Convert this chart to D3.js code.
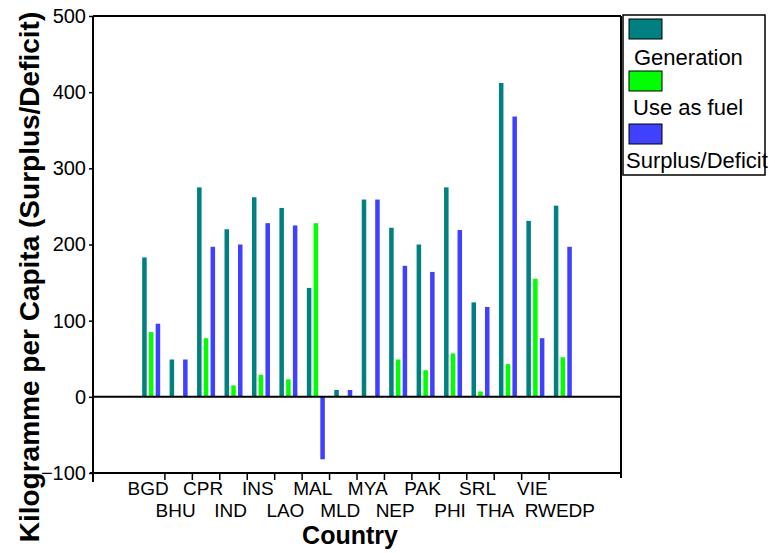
<!DOCTYPE html>
<html><head><meta charset="utf-8">
<script src="https://cdn.jsdelivr.net/npm/d3@7"></script>
<style>
body{margin:0;background:#fff;}
text{font-family:"Liberation Sans",Arial,sans-serif;}
</style></head>
<body><svg id="c" width="775" height="553"></svg>
<script>
const countries = ["BGD","BHU","CPR","IND","INS","LAO","MAL","MLD","MYA","NEP","PAK","PHI","SRL","THA","VIE","RWEDP"];
const generation = [183, 49, 275, 220, 262, 248, 143, 9, 259, 222, 200, 275, 124, 412, 231, 251];
const useAsFuel  = [85, 0, 77, 15, 29, 23, 228, 0, 0, 49, 35, 57, 7, 43, 155, 52];
const surplus    = [96, 49, 197, 200, 228, 225, -82, 9, 259, 172, 164, 219, 118, 368, 77, 197];
const seriesNames = ["Generation","Use as fuel","Surplus/Deficit"];
const seriesColors = ["#008080","#00ff00","#4040ff"];
const yTicks = [-100, 0, 100, 200, 300, 400, 500];

const svg = d3.select("#c");
const L = 93, R = 621, T = 16, B = 473;
const y = d3.scaleLinear().domain([-100, 500]).range([B, T]);
const x = d3.scaleBand().domain(countries).range([L, R]).paddingInner(0).paddingOuter(1.62);
const xs = d3.scaleBand().domain([0,1,2]).range([-9, 9]).paddingInner(0.33);
const series = [generation, useAsFuel, surplus];

// bars
series.forEach((vals, si) => {
  svg.append("g").selectAll("rect").data(countries.map((c, i) => ({c, v: vals[i]})).filter(d => d.v !== 0))
    .join("rect")
    .attr("x", d => x(d.c) + x.bandwidth()/2 + xs(si))
    .attr("width", xs.bandwidth())
    .attr("y", d => Math.min(y(d.v), y(0)))
    .attr("height", d => Math.abs(y(d.v) - y(0)))
    .attr("fill", seriesColors[si]);
});

// frame
const line = (x1,y1,x2,y2,w) => svg.append("line").attr("x1",x1).attr("y1",y1).attr("x2",x2).attr("y2",y2)
  .attr("stroke","#000").attr("stroke-width",w||2);
line(L, T, R, T);
line(L, T, L, 482);
line(90, B, 622, B);
line(R, T, R, 478);
line(L, y(0), R, y(0));

// y axis ticks
const yAxis = d3.axisLeft(y).tickValues(yTicks).tickSize(4).tickPadding(3).tickFormat(d3.format("d"));
const ga = svg.append("g").attr("transform", `translate(${L},0)`).call(yAxis);
ga.select(".domain").remove();
ga.selectAll("line").attr("stroke","#000").attr("stroke-width",1.5);
ga.selectAll("text").attr("font-size",20).attr("fill","#000").attr("font-family","Liberation Sans, Arial, sans-serif");

// x ticks at band boundaries
svg.append("g").selectAll("line").data(countries.slice(1)).join("line")
  .attr("x1", d => x(d)).attr("x2", d => x(d)).attr("y1", B).attr("y2", 480)
  .attr("stroke","#000").attr("stroke-width",1.5);

const xl = svg.append("g").selectAll("text").data(countries).join("text")
  .attr("x", d => x(d) + x.bandwidth()/2 - 3)
  .attr("y", (d, i) => i % 2 === 0 ? 495 : 517)
  .attr("text-anchor","middle").attr("font-size",19).attr("fill","#000")
  .text(d => d);
// avoid overlaps within each row: shift left labels leftwards
[0,1].forEach(row => {
  const nodes = xl.filter((d,i) => i % 2 === row).nodes();
  for (let k = nodes.length - 2; k >= 0; k--) {
    const a = nodes[k].getBBox(), b = nodes[k+1].getBBox();
    const gap = b.x - (a.x + a.width);
    if (gap < 10) nodes[k].setAttribute("x", +nodes[k].getAttribute("x") - (10 - gap));
  }
});

// axis titles
svg.append("text").attr("transform","translate(39,277) rotate(-90)")
  .attr("text-anchor","middle").attr("font-size",28).attr("font-weight","bold")
  .text("Kilogramme per Capita (Surplus/Deficit)");
svg.append("text").attr("x",350).attr("y",544).attr("text-anchor","middle")
  .attr("font-size",25).attr("font-weight","bold").text("Country");

// legend
const lg = svg.append("g");
lg.append("rect").attr("x",623).attr("y",15).attr("width",142).attr("height",160)
  .attr("fill","#fff").attr("stroke","#000").attr("stroke-width",1.5);
const swY = [19, 71, 124], txX = [634, 633, 626], txY = [65, 115, 168];
seriesNames.forEach((n, i) => {
  lg.append("rect").attr("x",629).attr("y",swY[i]).attr("width",33).attr("height",20)
    .attr("fill",seriesColors[i]).attr("stroke","#000").attr("stroke-width",1);
  lg.append("text").attr("x",txX[i]).attr("y",txY[i]).attr("font-size",22).attr("fill","#000").text(n);
});
</script></body></html>
